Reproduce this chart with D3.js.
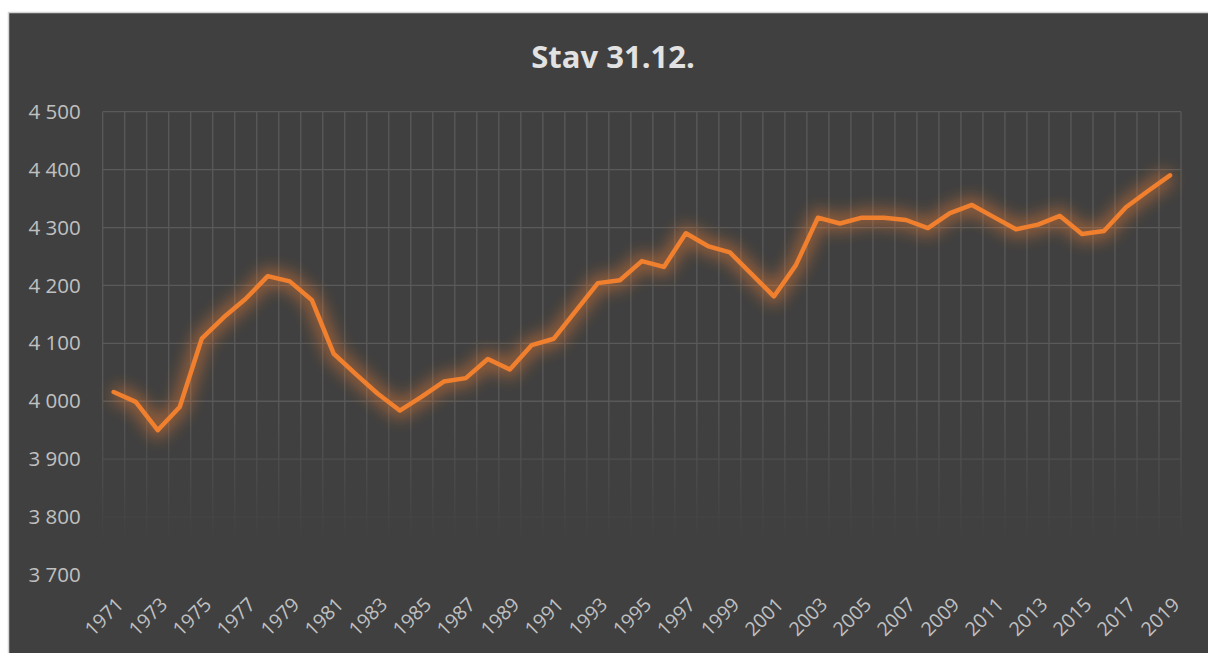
<!DOCTYPE html>
<html>
<head>
<meta charset="utf-8">
<script src="https://cdn.jsdelivr.net/npm/d3@7"></script>
<style>
  html, body { margin: 0; padding: 0; background: #fff; }
  svg { display: block; }
</style>
</head>
<body>
<div id="chart"></div>
<script>

const years = d3.range(1971, 2020);

const values = [
  4016, 3999, 3950, 3990, 4108, 4145, 4177, 4216, 4207, 4175,
  4082, 4047, 4013, 3984, 4008, 4034, 4040, 4073, 4055, 4097,
  4108, 4156, 4204, 4209, 4242, 4232, 4290, 4268, 4257, 4219,
  4181, 4235, 4317, 4307, 4317, 4317, 4313, 4299, 4325, 4339,
  4318, 4297, 4305, 4320, 4289, 4294, 4335, 4363, 4390
];

const yTicks = [3700, 3800, 3900, 4000, 4100, 4200, 4300, 4400, 4500];

const title = 'Stav 31.12.';

const W = 1208, H = 653;
const margin = { top: 111.7, right: 27, bottom: 78, left: 102.7 };
const innerW = W - margin.left - margin.right,
      innerH = H - margin.top - margin.bottom;

const svg = d3.select('#chart').append('svg')
  .attr('width', W)
  .attr('height', H);

const defs = svg.append('defs');

// soft glow behind the line
const glow = defs.append('filter')
  .attr('id', 'glow')
  .attr('x', '-10%').attr('y', '-40%')
  .attr('width', '120%').attr('height', '180%');
glow.append('feGaussianBlur')
  .attr('in', 'SourceGraphic')
  .attr('stdDeviation', 8);

// gridlines fade out towards the bottom
const fade = defs.append('linearGradient')
  .attr('id', 'fade')
  .attr('gradientUnits', 'userSpaceOnUse')
  .attr('x1', 0).attr('x2', 0)
  .attr('y1', 395).attr('y2', 545);
fade.append('stop').attr('offset', 0).attr('stop-color', '#fff').attr('stop-opacity', 1);
fade.append('stop').attr('offset', 1).attr('stop-color', '#fff').attr('stop-opacity', 0);

defs.append('mask')
  .attr('id', 'gridMask')
  .attr('maskUnits', 'userSpaceOnUse')
  .attr('x', 0).attr('y', 0).attr('width', W).attr('height', H)
  .append('rect')
  .attr('width', W).attr('height', H)
  .attr('fill', 'url(#fade)');

// chart frame
svg.append('rect')
  .attr('x', 8.5)
  .attr('y', 12.5)
  .attr('width', W + 10)
  .attr('height', H + 10)
  .attr('fill', '#404040')
  .attr('stroke', '#d4d4d4')
  .attr('stroke-width', 1.5);

svg.append('text')
  .attr('x', 613)
  .attr('y', 68)
  .attr('text-anchor', 'middle')
  .attr('fill', '#e2e2e2')
  .style('font-family', '"Open Sans", sans-serif')
  .style('font-weight', 700)
  .style('font-size', '31px')
  .text(title);

const x = d3.scaleBand()
  .domain(years)
  .range([0, innerW]);

const y = d3.scaleLinear()
  .domain([3700, 4500])
  .range([innerH, 0]);

const g = svg.append('g')
  .attr('transform', `translate(${margin.left},${margin.top})`);

// gridlines
const grid = g.append('g')
  .attr('mask', 'url(#gridMask)')
  .attr('transform', `translate(${-margin.left},${-margin.top})`)
  .append('g')
  .attr('transform', `translate(${margin.left},${margin.top})`);

const bounds = years.map(d => x(d)).concat([innerW]);

grid.selectAll('line.v')
  .data(bounds)
  .join('line')
  .attr('class', 'v')
  .attr('x1', d => d).attr('x2', d => d)
  .attr('y1', 0).attr('y2', innerH)
  .attr('stroke', '#5a5a5a')
  .attr('stroke-width', 1.3);

grid.selectAll('line.h')
  .data(yTicks)
  .join('line')
  .attr('class', 'h')
  .attr('x1', 0).attr('x2', innerW)
  .attr('y1', d => y(d)).attr('y2', d => y(d))
  .attr('stroke', '#5a5a5a')
  .attr('stroke-width', 1.3);

// y axis
const yAxis = g.append('g')
  .call(d3.axisLeft(y)
    .tickValues(yTicks)
    .tickSize(0)
    .tickPadding(22)
    .tickFormat(d => d3.format(',')(d).replace(',', ' ')));

yAxis.select('.domain').remove();
yAxis.selectAll('text')
  .attr('fill', '#c0c0c0')
  .style('font-family', '"Open Sans", sans-serif')
  .style('font-size', '20.5px');

// x axis
const xAxis = g.append('g')
  .attr('transform', `translate(0,${innerH})`)
  .call(d3.axisBottom(x)
    .tickValues(years.filter(d => (d - 1971) % 2 === 0))
    .tickSize(0));

xAxis.select('.domain').remove();
xAxis.selectAll('text')
  .attr('fill', '#c0c0c0')
  .attr('text-anchor', 'end')
  .attr('transform', 'translate(6,26) rotate(-45)')
  .attr('dy', '0.35em')
  .attr('y', 0)
  .style('font-family', '"Open Sans", sans-serif')
  .style('font-size', '19.5px');

// series
const line = d3.line()
  .x((d, i) => x(years[i]) + x.bandwidth() / 2)
  .y(d => y(d));

g.append('path')
  .datum(values)
  .attr('d', line)
  .attr('fill', 'none')
  .attr('stroke', '#ed7d31')
  .attr('stroke-opacity', 0.5)
  .attr('stroke-width', 16)
  .attr('stroke-linejoin', 'round')
  .attr('filter', 'url(#glow)');

g.append('path')
  .datum(values)
  .attr('d', line)
  .attr('fill', 'none')
  .attr('stroke', '#f07f2e')
  .attr('stroke-width', 4.5)
  .attr('stroke-linejoin', 'round')
  .attr('stroke-linecap', 'round');

</script>
</body>
</html>
